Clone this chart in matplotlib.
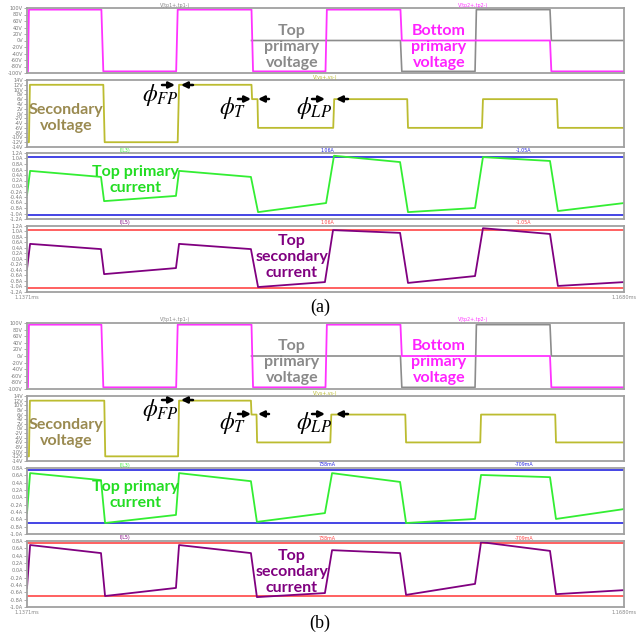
import matplotlib
matplotlib.use("Agg")
import matplotlib.pyplot as plt
import numpy as np

plt.rcParams["mathtext.fontset"] = "stix"

W = H = 639
T_END = 30.9  # us shown, 1.1371ms .. 1.1680ms

# ---------------- data (time in us after 1.1371 ms) ----------------
# primary voltages (same in (a) and (b))
vp_mag_t = [0, 0.05, 0.10, 3.85, 3.95, 7.72, 7.80, 11.62, 11.70, 15.45, 15.52, 19.33, 19.40, 27.07, 27.14, 30.9]
vp_mag_v = [-95, -95, 95, 95, -95, -95, 95, 95, -95, -95, 95, 95, 0, 0, -95, -95]
vp_gray_t = [11.62, 19.33, 19.40, 23.19, 23.26, 27.07, 27.14, 30.9]
vp_gray_v = [0, 0, -95, -95, 95, 95, 0, 0]

# secondary voltage
vs_a_t = [0, 0.10, 0.15, 3.95, 4.02, 7.80, 7.87, 11.62, 11.65, 11.93, 11.96, 15.85, 15.90,
          19.68, 19.72, 23.55, 23.60, 27.43, 27.48, 30.9]
vs_a_v = [-12, -12, 12, 12, -12, -12, 12, 12, 6, 6, -6, -6, 6, 6, -6, -6, 6, 6, -6, -6]
vs_b_t = [0, 0.10, 0.15, 4.00, 4.05, 7.82, 7.87, 11.59, 11.62, 11.88, 11.91, 15.70, 15.75,
          19.58, 19.62, 23.46, 23.50, 27.34, 27.38, 30.9]
vs_b_v = [-12, -12, 12, 12, -12, -12, 12, 12, 6, 6, -6, -6, 6, 6, -6, -6, 6, 6, -6, -6]

# currents
ip_a_t = [0, 0.16, 3.83, 3.99, 7.71, 7.87, 11.59, 11.96, 15.48, 15.89, 19.31, 19.72, 23.19, 23.60, 27.07, 27.48, 30.9]
ip_a_v = [-0.33, 0.55, 0.33, -0.55, -0.36, 0.55, 0.33, -0.95, -0.62, 1.10, 0.87, -0.95, -0.80, 1.05, 0.91, -0.91, -0.62]
is_a_t = [0, 0.16, 3.83, 3.99, 7.71, 7.87, 11.59, 11.96, 15.42, 15.84, 19.31, 19.72, 23.19, 23.60, 27.07, 27.48, 30.9]
is_a_v = [-0.36, 0.55, 0.36, -0.55, -0.33, 0.55, 0.36, -1.02, -0.84, 1.05, 0.95, -0.87, -0.62, 1.12, 0.91, -0.98, -0.84]

ip_b_t = [0, 0.16, 3.83, 4.04, 7.71, 7.87, 11.59, 11.90, 15.42, 15.79, 19.31, 19.62, 23.19, 23.50, 27.07, 27.38, 30.9]
ip_b_v = [-0.43, 0.66, 0.47, -0.70, -0.48, 0.66, 0.44, -0.67, -0.43, 0.66, 0.42, -0.70, -0.59, 0.61, 0.55, -0.59, -0.32]
is_b_t = ip_b_t
is_b_v = [-0.48, 0.69, 0.47, -0.70, -0.48, 0.69, 0.47, -0.73, -0.62, 0.55, 0.47, -0.67, -0.37, 0.77, 0.53, -0.65, -0.54]

cursor_a = [1.06, -1.05]
cursor_b = [0.738, -0.709]
cursor_a_txt = ["1.06A", "-1.05A"]
cursor_b_txt = ["738mA", "-709mA"]

v_ticks = [100, 80, 60, 40, 20, 0, -20, -40, -60, -80, -100]
s_ticks = list(range(14, -15, -2))
i_ticks_a = [1.2, 1.0, 0.8, 0.6, 0.4, 0.2, 0.0, -0.2, -0.4, -0.6, -0.8, -1.0, -1.2]
i_ticks_b = [0.8, 0.6, 0.4, 0.2, 0.0, -0.2, -0.4, -0.6, -0.8, -1.0]

MAG = "#ff33ff"
GRAY = "#8c8c8c"
OLIVE = "#bcbc30"
GREEN = "#33ee33"
PURPLE = "#800080"
BLUE = "#2525e0"
RED = "#ff4545"
FRAME = "#a0a0a0"

fig = plt.figure(figsize=(W / 100, H / 100), dpi=100)


def fx(x):
    return x / W


def fy(y):
    return 1 - y / H


def panel(top, bot, ylim, ticks, fmt, xlabels=False):
    ax = fig.add_axes([fx(27), fy(bot), fx(624) - fx(27), (bot - top) / H])
    ax.set_xlim(0, T_END)
    ax.set_ylim(*ylim)
    ax.set_yticks(ticks)
    ax.set_yticklabels([fmt(t) for t in ticks])
    ax.tick_params(axis="y", length=2, width=0.6, colors=FRAME, labelsize=3.6, pad=1,
                   labelcolor="#777777")
    if xlabels:
        ax.set_xticks([0, T_END])
        ax.set_xticklabels(["1.1371ms", "1.1680ms"])
        ax.tick_params(axis="x", length=0, labelsize=3.6, labelcolor="#888888", pad=2)
    else:
        ax.set_xticks([])
    for s in ax.spines.values():
        s.set_color(FRAME)
        s.set_linewidth(1.3)
    return ax


def vfmt(t):
    return f"{t:d}V"


def afmt(t):
    return f"{t:.1f}A"


def arrow(x0, x1, y):
    plt.annotate("", xy=(fx(x1), fy(y)), xytext=(fx(x0), fy(y)), xycoords="figure fraction",
                 arrowprops=dict(arrowstyle="-|>", color="k", lw=1.8, mutation_scale=9,
                                 shrinkA=0, shrinkB=0))


def label(x, y, s, color, size=11.5):
    fig.text(fx(x), fy(y), s, color=color, ha="center", va="center", family="Lato",
             weight="bold", fontsize=size, linespacing=1.15)


def small(x, y, s, color):
    fig.text(fx(x), fy(y), s, color=color, ha="center", va="center", fontsize=3.4)


groups = [
    dict(dy=0, vs=(vs_a_t, vs_a_v), ip=(ip_a_t, ip_a_v), isec=(is_a_t, is_a_v),
         cur=cursor_a, cur_txt=cursor_a_txt, iticks=i_ticks_a, ilim=(-1.2, 1.2),
         top=[8, 80, 153, 226], bot=[73, 147, 219, 292], tag="(a)", tagy=307),
    dict(dy=315, vs=(vs_b_t, vs_b_v), ip=(ip_b_t, ip_b_v), isec=(is_b_t, is_b_v),
         cur=cursor_b, cur_txt=cursor_b_txt, iticks=i_ticks_b, ilim=(-1.0, 0.8),
         top=[323, 396, 468, 541], bot=[389, 461, 534, 607], tag="(b)", tagy=623),
]

for g in groups:
    top, bot = g["top"], g["bot"]
    ax1 = panel(top[0], bot[0], (-100, 100), v_ticks, vfmt)
    ax1.plot(vp_gray_t, vp_gray_v, color=GRAY, lw=1.2)
    ax1.plot(vp_mag_t, vp_mag_v, color=MAG, lw=1.3)
    small(175, top[0] - 3, "V(tp1+,tp1-)", "#888888")
    small(473, top[0] - 3, "V(tp2+,tp2-)", MAG)

    ax2 = panel(top[1], bot[1], (-14, 14), s_ticks, vfmt)
    ax2.plot(*g["vs"], color=OLIVE, lw=1.3)
    small(325, top[1] - 3, "V(vs+,vs-)", OLIVE)

    ax3 = panel(top[2], bot[2], g["ilim"], g["iticks"], afmt)
    for c in g["cur"]:
        ax3.axhline(c, color=BLUE, lw=1.2)
    ax3.plot(*g["ip"], color=GREEN, lw=1.3)
    small(125, top[2] - 3, "I(L3)", GREEN)
    small(327, top[2] - 3, g["cur_txt"][0], BLUE)
    small(524, top[2] - 3, g["cur_txt"][1], BLUE)

    ax4 = panel(top[3], bot[3], g["ilim"], g["iticks"], afmt, xlabels=True)
    for c in g["cur"]:
        ax4.axhline(c, color=RED, lw=1.2)
    ax4.plot(*g["isec"], color=PURPLE, lw=1.3)
    small(125, top[3] - 3, "I(L5)", PURPLE)
    small(327, top[3] - 3, g["cur_txt"][0], RED)
    small(524, top[3] - 3, g["cur_txt"][1], RED)

    dy = g["dy"]
    label(292, 47 + dy, "Top\nprimary\nvoltage", "#8a8a8a")
    label(439, 47 + dy, "Bottom\nprimary\nvoltage", "#ff22ff")
    label(66, 118 + dy, "Secondary\nvoltage", "#9a8a50")
    label(136, 180 + dy, "Top primary\ncurrent", "#22dd22")
    label(292, 257 + dy, "Top\nsecondary\ncurrent", PURPLE)

    # phase-shift annotations
    fig.text(fx(160), fy(95 + dy), r"$\phi_{FP}$", ha="center", va="center", fontsize=17)
    fig.text(fx(233), fy(108 + dy), r"$\phi_{T}$", ha="center", va="center", fontsize=17)
    fig.text(fx(314), fy(108 + dy), r"$\phi_{LP}$", ha="center", va="center", fontsize=17)
    arrow(162, 175, 85 + dy)
    arrow(193, 181, 85 + dy)
    arrow(238, 251, 99 + dy)
    arrow(269, 258, 99 + dy)
    arrow(312, 325, 99 + dy)
    arrow(348, 336, 99 + dy)

    fig.text(fx(320), fy(g["tagy"]), g["tag"], ha="center", va="center",
             family="Liberation Serif", fontsize=13)

fig.savefig("out.png", dpi=100)
